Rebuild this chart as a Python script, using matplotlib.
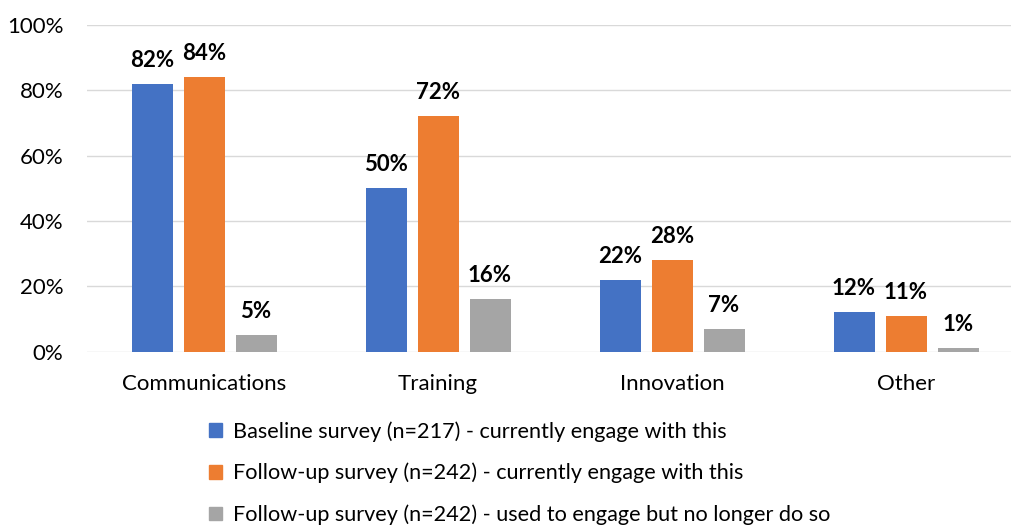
import numpy as np
import matplotlib.pyplot as plt
from matplotlib.patches import Patch

plt.rcParams['font.family'] = ['Lato', 'DejaVu Sans']

# Engagement by activity type
categories = ['Communications', 'Training', 'Innovation', 'Other']
baseline = [82, 50, 22, 12]
followup = [84, 72, 28, 11]
no_longer = [5, 16, 7, 1]
series_names = ['Baseline survey (n=217) - currently engage with this',
                'Follow-up survey (n=242) - currently engage with this',
                'Follow-up survey (n=242) - used to engage but no longer do so']
colors = ['#4472C4', '#ED7D31', '#A5A5A5']
yticks = [0, 20, 40, 60, 80, 100]

W, H = 1011, 527
fs = 16
fig = plt.figure(figsize=(W / 100, H / 100), dpi=100)
ax = fig.add_axes([87 / W, 1 - 351.7 / H, 936 / W, (351.7 - 25) / H])

x = np.arange(len(categories))
bw = 41 / 234
step = 52 / 234
for i, (vals, c) in enumerate(zip([baseline, followup, no_longer], colors)):
    pos = x + (i - 1) * step
    ax.bar(pos, vals, width=bw, color=c, zorder=3)
    for p, v in zip(pos, vals):
        ax.annotate(f'{v}%', (p, v), xytext=(0, 17), textcoords='offset points',
                    ha='center', va='center', fontsize=fs, fontweight='bold')

ax.set_xlim(-0.5, len(categories) - 0.5)
ax.set_ylim(0, 100)
ax.set_yticks(yticks)
ax.set_yticklabels([f'{t}%' for t in yticks], fontsize=fs)
ax.set_xticks(x)
ax.set_xticklabels(categories, fontsize=fs)
ax.tick_params(length=0)
ax.tick_params(axis='y', pad=17)
ax.tick_params(axis='x', pad=16)
ax.grid(axis='y', color='#D9D9D9', linewidth=1, zorder=0)
for s in ax.spines.values():
    s.set_visible(False)

handles = [Patch(color=c) for c in colors]
fig.legend(handles, series_names, loc='upper left', bbox_to_anchor=(209 / W, 1 - 421 / H),
           frameon=False, fontsize=15.6, handlelength=0.6, handleheight=0.6,
           handletextpad=0.5, labelspacing=0.98, borderaxespad=0, borderpad=0)

fig.savefig('out.png', dpi=100)
